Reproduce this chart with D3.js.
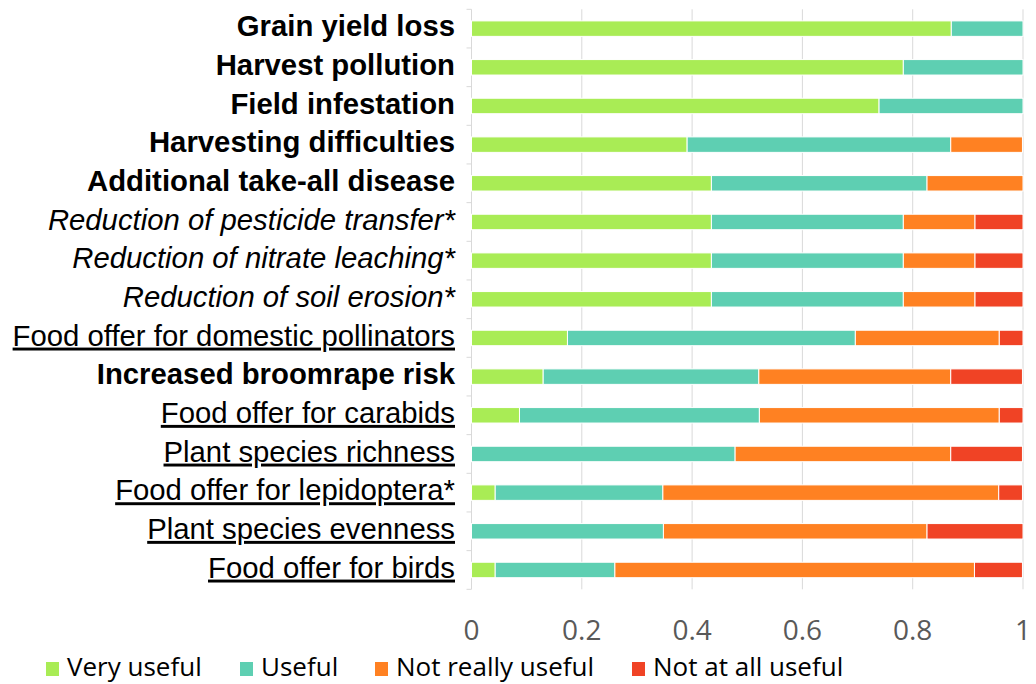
<!DOCTYPE html>
<meta charset="utf-8">
<style>
    body { margin: 0; background: #fff; }
    .label { font-family: "Liberation Sans", Arial, sans-serif; font-size: 29.3px; fill: #000; }
    .tick-label { font-family: "Open Sans", sans-serif; font-size: 28px; fill: #595959; }
    .legend-text { font-family: "Open Sans", sans-serif; font-size: 26px; fill: #000; }
</style>
<body>
<script src="https://cdn.jsdelivr.net/npm/d3@7"></script>
<script>

    var categories = [
        "Grain yield loss",
        "Harvest pollution",
        "Field infestation",
        "Harvesting difficulties",
        "Additional take-all disease",
        "Reduction of pesticide transfer*",
        "Reduction of nitrate leaching*",
        "Reduction of soil erosion*",
        "Food offer for domestic pollinators",
        "Increased broomrape risk",
        "Food offer for carabids",
        "Plant species richness",
        "Food offer for lepidoptera*",
        "Plant species evenness",
        "Food offer for birds"
    ];

    // kind of criterion: disservice, water/soil service, biodiversity
    var categoryKind = [
        "disservice", "disservice", "disservice", "disservice", "disservice",
        "water", "water", "water",
        "biodiversity", "disservice", "biodiversity", "biodiversity",
        "biodiversity", "biodiversity", "biodiversity"
    ];

    var seriesNames = ["Very useful", "Useful", "Not really useful", "Not at all useful"];

    var veryUseful     = [0.870, 0.783, 0.739, 0.391, 0.435, 0.435, 0.435, 0.435, 0.174, 0.130, 0.087, 0.000, 0.043, 0.000, 0.043];
    var useful         = [0.130, 0.217, 0.261, 0.478, 0.391, 0.348, 0.348, 0.348, 0.522, 0.391, 0.435, 0.478, 0.304, 0.348, 0.217];
    var notReally      = [0.000, 0.000, 0.000, 0.130, 0.174, 0.130, 0.130, 0.130, 0.261, 0.348, 0.435, 0.391, 0.609, 0.478, 0.652];
    var notAtAll       = [0.000, 0.000, 0.000, 0.000, 0.000, 0.087, 0.087, 0.087, 0.043, 0.130, 0.043, 0.130, 0.043, 0.174, 0.087];

    var xTicks = [0, 0.2, 0.4, 0.6, 0.8, 1];

    var colors = ["#a9ec55", "#5ecfb2", "#ff8122", "#f04325"];

    var width = 1036, height = 684;
    var plotTop = 9.3, plotBottom = 589.3;

    var x = d3.scaleLinear().domain([0, 1]).range([471.5, 1023]);
    var y = d3.scaleBand().domain(categories).range([plotTop, plotBottom]).paddingInner(0.6).paddingOuter(0.3);
    var yOuter = d3.scaleBand().domain(categories).range([plotTop, plotBottom]);

    var svg = d3.select("body").append("svg")
        .attr("width", width)
        .attr("height", height);

    // gridlines
    svg.append("g")
        .selectAll("line")
        .data(xTicks)
        .enter().append("line")
        .attr("x1", function (d) { return x(d); })
        .attr("x2", function (d) { return x(d); })
        .attr("y1", plotTop)
        .attr("y2", plotBottom)
        .attr("stroke", "#d9d9d9")
        .attr("stroke-width", 1);

    // small category ticks at the left
    var bounds = categories.map(function (c) { return yOuter(c); }).concat([plotBottom]);
    svg.append("g")
        .selectAll("line")
        .data(bounds)
        .enter().append("line")
        .attr("x1", x(0) - 5)
        .attr("x2", x(0))
        .attr("y1", function (d) { return d; })
        .attr("y2", function (d) { return d; })
        .attr("stroke", "#d9d9d9");

    // stack
    var table = categories.map(function (c, i) {
        return { cat: c, "Very useful": veryUseful[i], "Useful": useful[i], "Not really useful": notReally[i], "Not at all useful": notAtAll[i] };
    });
    var stacked = d3.stack().keys(seriesNames)(table);

    svg.append("g")
        .selectAll("g")
        .data(stacked)
        .enter().append("g")
        .attr("fill", function (d, i) { return colors[i]; })
        .selectAll("rect")
        .data(function (d) { return d.filter(function (p) { return p[1] - p[0] > 0; }); })
        .enter().append("rect")
        .attr("x", function (d) { return x(d[0]); })
        .attr("width", function (d) { return x(d[1]) - x(d[0]); })
        .attr("y", function (d) { return y(d.data.cat); })
        .attr("height", y.bandwidth())
        .attr("stroke", "#fff")
        .attr("stroke-width", 1);

    // category labels
    svg.append("g")
        .selectAll("text")
        .data(categories)
        .enter().append("text")
        .attr("class", "label")
        .attr("x", 455)
        .attr("y", function (d) { return y(d) + y.bandwidth() / 2; })
        .attr("dy", "0.26em")
        .attr("text-anchor", "end")
        .style("font-weight", function (d, i) { return categoryKind[i] === "disservice" ? "bold" : "normal"; })
        .style("font-style", function (d, i) { return categoryKind[i] === "water" ? "italic" : "normal"; })
        .style("text-decoration", function (d, i) { return categoryKind[i] === "biodiversity" ? "underline" : "none"; })
        .text(function (d) { return d; });

    // x tick labels
    svg.append("g")
        .selectAll("text")
        .data(xTicks)
        .enter().append("text")
        .attr("class", "tick-label")
        .attr("x", function (d) { return x(d); })
        .attr("y", 640)
        .attr("text-anchor", "middle")
        .text(function (d) { return d3.format("")(d); });

    // legend
    var legendX = [46, 240, 375, 632];
    var legend = svg.append("g")
        .selectAll("g")
        .data(seriesNames)
        .enter().append("g")
        .attr("transform", function (d, i) { return "translate(" + legendX[i] + ",0)"; });

    legend.append("rect")
        .attr("x", 0)
        .attr("y", 662)
        .attr("width", 13)
        .attr("height", 14)
        .attr("fill", function (d, i) { return colors[i]; });

    legend.append("text")
        .attr("class", "legend-text")
        .attr("x", 21)
        .attr("y", 676)
        .text(function (d) { return d; });

</script>
</body>
